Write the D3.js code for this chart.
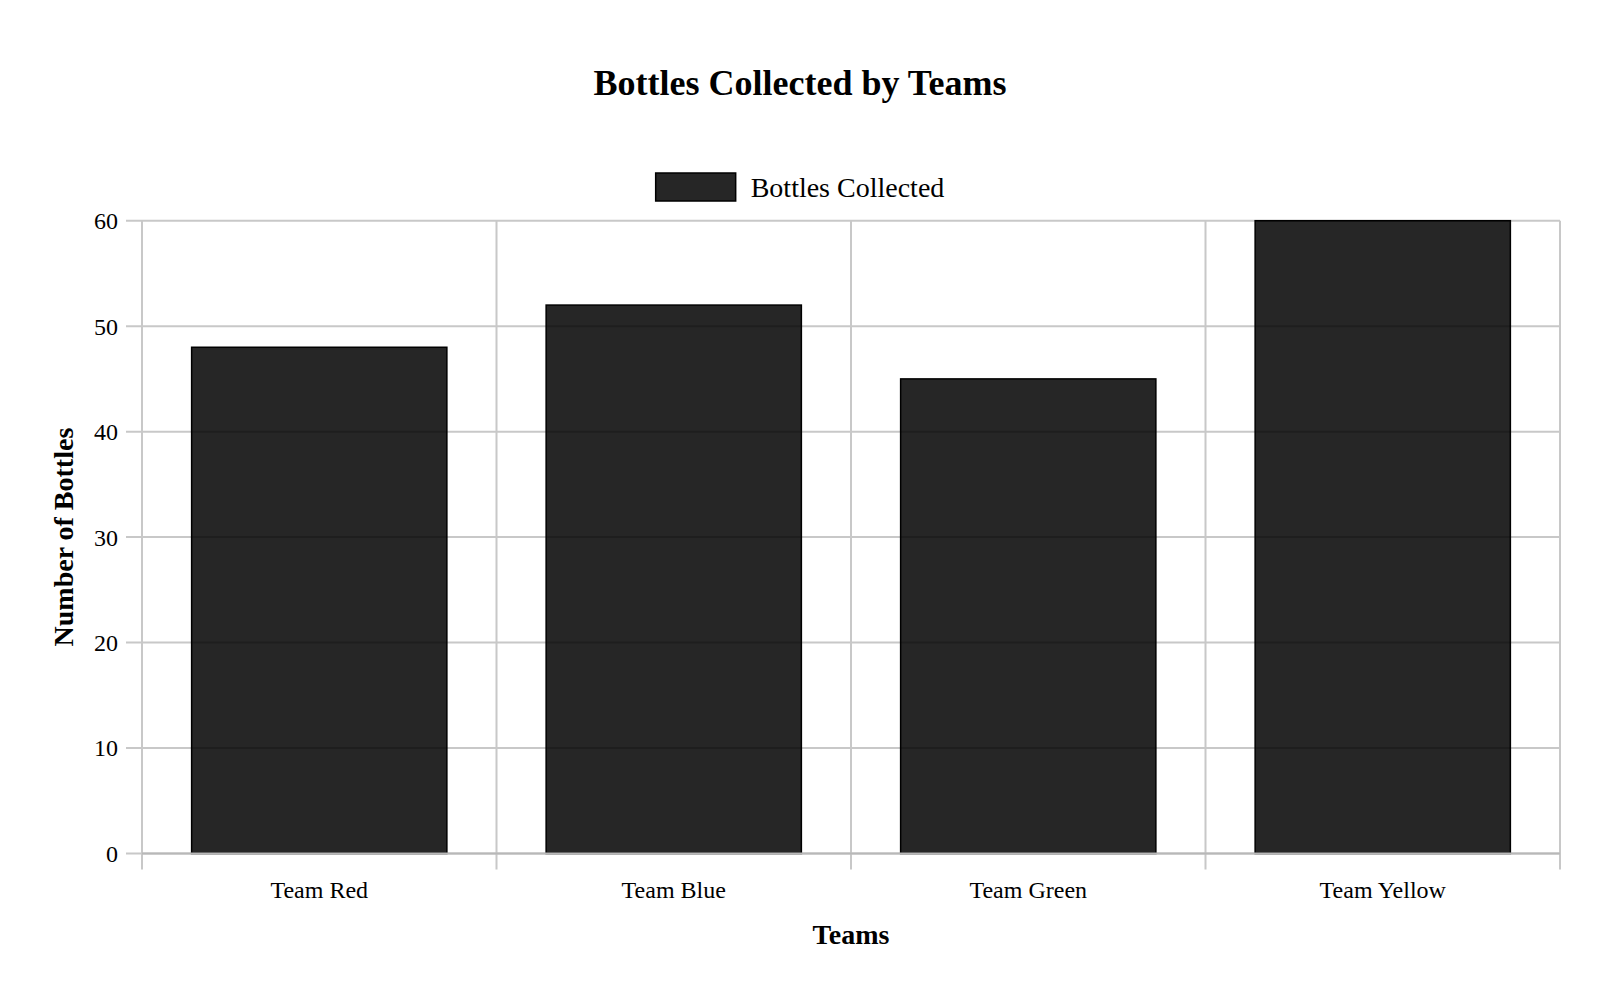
<!DOCTYPE html>
<html>
<head>
<meta charset="utf-8">
<script src="https://cdn.jsdelivr.net/npm/d3@7"></script>
<style>
  html, body { margin: 0; padding: 0; background: #fff; }
  svg text { font-family: "Liberation Serif", "Times New Roman", serif; fill: #000; }
</style>
</head>
<body>
<div id="chart"></div>
<script>
// donnees du graphe
var teams = ["Team Red", "Team Blue", "Team Green", "Team Yellow"];
var bottles = [48, 52, 45, 60];
var yTicks = [0, 10, 20, 30, 40, 50, 60];
var seriesName = "Bottles Collected";

var width = 1600, height = 1000;
var margin = { top: 220.7, right: 40, bottom: 146.5, left: 142 };
var w = width - margin.left - margin.right;
var h = height - margin.top - margin.bottom;

var gridColor = "#c8c8c8";
var barFill = "rgba(0,0,0,0.85)";

var svg = d3.select("#chart")
  .append("svg")
  .attr("width", width)
  .attr("height", height);

var g = svg.append("g")
  .attr("transform", "translate(" + margin.left + "," + margin.top + ")");

var x = d3.scaleBand()
  .domain(teams)
  .range([0, w])
  .paddingInner(0)
  .paddingOuter(0);

var y = d3.scaleLinear()
  .domain([0, 60])
  .range([h, 0]);

// grille horizontale
g.append("g")
  .selectAll("line")
  .data(yTicks)
  .enter()
  .append("line")
    .attr("x1", -16)
    .attr("x2", w)
    .attr("y1", d => y(d))
    .attr("y2", d => y(d))
    .attr("stroke", gridColor)
    .attr("stroke-width", 2);

// grille verticale (bords des categories)
var edges = teams.map(d => x(d)).concat([w]);
g.append("g")
  .selectAll("line")
  .data(edges)
  .enter()
  .append("line")
    .attr("x1", d => d)
    .attr("x2", d => d)
    .attr("y1", 0)
    .attr("y2", h + 16)
    .attr("stroke", gridColor)
    .attr("stroke-width", 2);

// barres
var barW = x.bandwidth() * 0.72;
g.selectAll("rect.bar")
  .data(teams)
  .enter()
  .append("rect")
    .attr("class", "bar")
    .attr("x", d => x(d) + (x.bandwidth() - barW) / 2)
    .attr("width", barW)
    .attr("y", (d, i) => y(bottles[i]))
    .attr("height", (d, i) => h - y(bottles[i]))
    .attr("fill", barFill)
    .attr("stroke", "#000")
    .attr("stroke-width", 1.5);

// axe x (ligne de base)
g.append("line")
  .attr("x1", 0)
  .attr("x2", w)
  .attr("y1", h)
  .attr("y2", h)
  .attr("stroke", "#b8b8b8")
  .attr("stroke-width", 2);

// axe y
var yAxis = g.append("g")
  .call(d3.axisLeft(y).tickValues(yTicks).tickSize(0).tickPadding(24));
yAxis.select(".domain").remove();
yAxis.selectAll("text")
  .attr("font-size", 24)
  .attr("fill", "#000")
  .attr("dy", "0.33em");

// axe x labels
var xAxis = g.append("g")
  .attr("transform", "translate(0," + h + ")")
  .call(d3.axisBottom(x).tickSize(0));
xAxis.select(".domain").remove();
xAxis.selectAll("text")
  .attr("font-size", 24)
  .attr("fill", "#000")
  .attr("y", 44.8)
  .attr("dy", 0);

// titres
svg.append("text")
  .attr("x", width / 2)
  .attr("y", 95)
  .attr("text-anchor", "middle")
  .attr("font-size", 36)
  .attr("font-weight", "bold")
  .text("Bottles Collected by Teams");

svg.append("text")
  .attr("x", margin.left + w / 2)
  .attr("y", 944)
  .attr("text-anchor", "middle")
  .attr("font-size", 28)
  .attr("font-weight", "bold")
  .text("Teams");

svg.append("text")
  .attr("transform", "translate(73," + (margin.top + h / 2) + ") rotate(-90)")
  .attr("text-anchor", "middle")
  .attr("font-size", 28)
  .attr("font-weight", "bold")
  .text("Number of Bottles");

// legende
var legend = svg.append("g");
var legendText = legend.append("text")
  .attr("x", 95)
  .attr("y", 24)
  .attr("font-size", 28)
  .text(seriesName);
legend.append("rect")
  .attr("x", 0)
  .attr("y", 0)
  .attr("width", 80)
  .attr("height", 28)
  .attr("fill", barFill)
  .attr("stroke", "#000")
  .attr("stroke-width", 1.5);
var lw = 95 + legendText.node().getComputedTextLength();
legend.attr("transform", "translate(" + (width / 2 - lw / 2) + ",173)");
</script>
</body>
</html>
